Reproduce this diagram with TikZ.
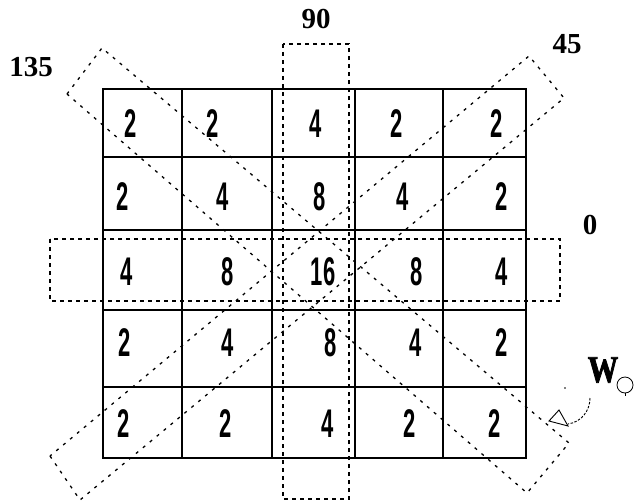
\documentclass[tikz,border=0pt]{standalone}
\usepackage{fontspec}
\setmainfont{Liberation Serif}
\newfontfamily\numfont[FakeStretch=0.55]{Liberation Sans Bold}
\newfontfamily\wfont[FakeStretch=0.8,FakeBold=2]{Liberation Serif Bold}
\begin{document}
\begin{tikzpicture}[x=1pt,y=-1pt,
  gridline/.style={line width=1.8pt,black},
  axisrect/.style={line width=1.3pt,dash pattern=on 4pt off 4pt},
  diagrect/.style={line width=1.3pt,dash pattern=on 3pt off 6pt},
  num/.style={inner sep=0pt,font=\numfont\fontsize{40}{40}\selectfont},
  ang/.style={inner sep=0pt,font=\bfseries\fontsize{29}{29}\selectfont}]
\useasboundingbox (0,0) rectangle (636,503);
% grid
\draw[gridline] (103,89) rectangle (526,458);
\foreach \x in {182,272,355,443} \draw[gridline] (\x,89) -- (\x,458);
\foreach \y in {157,230,310,387} \draw[gridline] (103,\y) -- (526,\y);
% dashed windows
\draw[axisrect] (283,44) rectangle (349,499);
\draw[axisrect] (50,239) rectangle (560,301);
\draw[diagrect] (50,456) -- (80,500) -- (564,98) -- (529,56) -- cycle;
\draw[diagrect] (67,94) -- (102,48) -- (569,443) -- (527,493) -- cycle;
% numbers
\node[num] (r1c1) at (131,124) {2};
\node[num] (r1c2) at (213,124) {2};
\node[num] (r1c3) at (316,124) {4};
\node[num] (r1c4) at (397,124) {2};
\node[num] (r1c5) at (497,124) {2};
\node[num] (r2c1) at (123,197) {2};
\node[num] (r2c2) at (223,197) {4};
\node[num] (r2c3) at (320,197) {8};
\node[num] (r2c4) at (403,197) {4};
\node[num] (r2c5) at (502,197) {2};
\node[num] (r3c1) at (127,272) {4};
\node[num] (r3c2) at (228,272) {8};
\node[num] (r3c3) at (323,272) {16};
\node[num] (r3c4) at (417,272) {8};
\node[num] (r3c5) at (502,272) {4};
\node[num] (r4c1) at (125,343) {2};
\node[num] (r4c2) at (228,343) {4};
\node[num] (r4c3) at (331,343) {8};
\node[num] (r4c4) at (416,343) {4};
\node[num] (r4c5) at (502,343) {2};
\node[num] (r5c1) at (124,424) {2};
\node[num] (r5c2) at (226,424) {2};
\node[num] (r5c3) at (328,424) {4};
\node[num] (r5c4) at (410,424) {2};
\node[num] (r5c5) at (495,424) {2};
% angle labels
\node[ang] (a90) at (316,19) {90};
\node[ang] (a135) at (31,67) {135};
\node[ang] (a45) at (567,44) {45};
\node[ang] (a0) at (590,225) {0};
% W symbol
\node[inner sep=0pt,font=\wfont\fontsize{38}{38}\selectfont] (w) at (603,370) {W};
\draw[line width=0.8pt] (625,385) circle (8);
\draw[line width=0.8pt] (625,393) -- (625,396);
\fill (565,388) circle (0.9);
\coordinate (cs) at (590,398);
\coordinate (ce) at (568,424);
\draw[line width=0.9pt,dash pattern=on 2.5pt off 1.5pt] (cs) .. controls (590,410) and (582,422) .. (ce);
\draw[line width=0.9pt,fill=white] (559,410) -- (549,421) -- (568,426) -- cycle;
\end{tikzpicture}
\end{document}
